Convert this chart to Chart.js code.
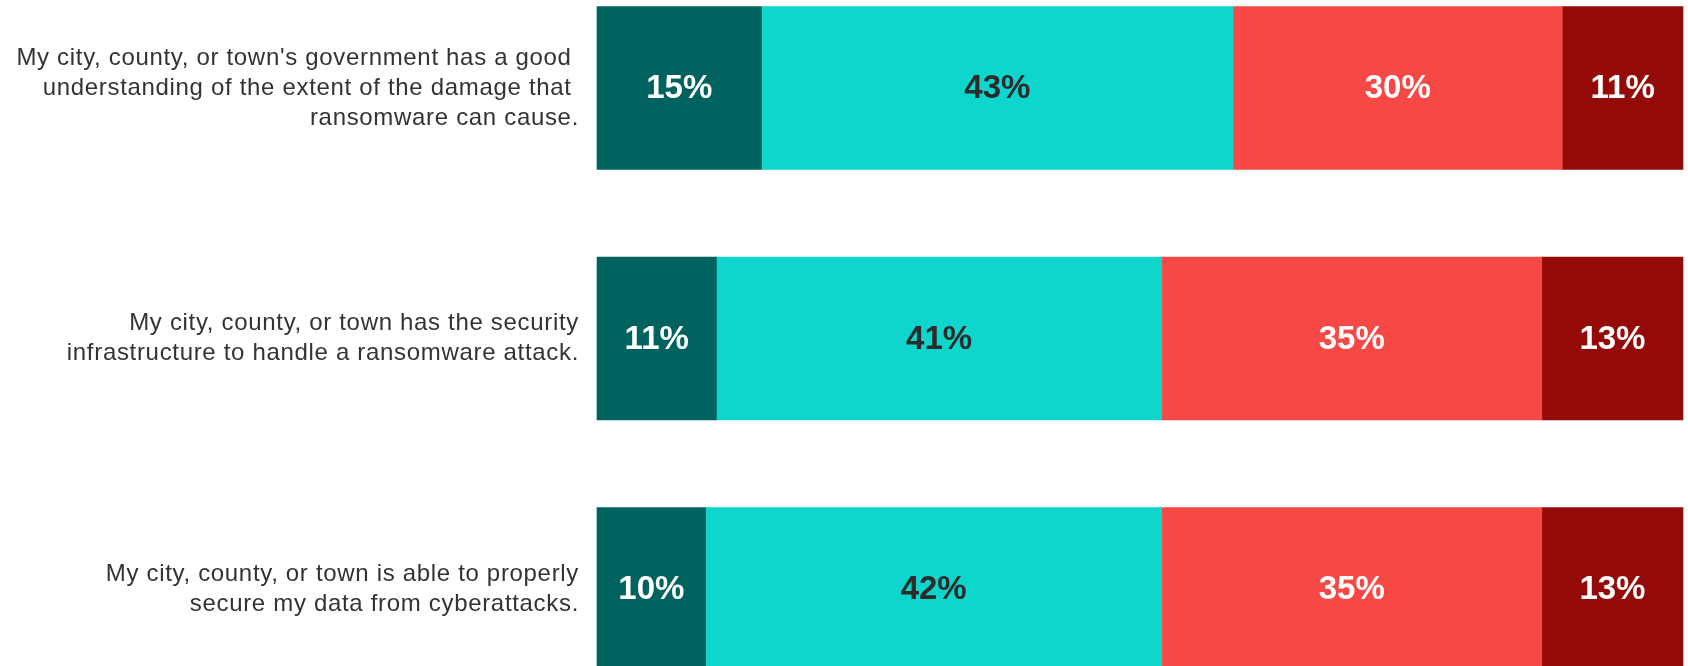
<!DOCTYPE html>
<html>
<head>
<meta charset="utf-8">
<script src="https://cdn.jsdelivr.net/npm/chart.js@4.4.1/dist/chart.umd.min.js"></script>
<style>
    html, body { margin: 0; padding: 0; background: #fff; }
    #wrap { width: 1688px; height: 666px; position: relative; }
</style>
</head>
<body>
<div id="wrap"><canvas id="chart"></canvas></div>
<script>
// survey statements (multi-line labels) and the share answering each option
var statements = [
    ["My city, county, or town's government has a good ", "understanding of the extent of the damage that ", "ransomware can cause."],
    ["My city, county, or town has the security", "infrastructure to handle a ransomware attack."],
    ["My city, county, or town is able to properly", "secure my data from cyberattacks."]
];
var answers = ["Strongly agree", "Somewhat agree", "Somewhat disagree", "Strongly disagree"];
var stronglyAgree = [15, 11, 10];
var somewhatAgree = [43, 41, 42];
var somewhatDisagree = [30, 35, 35];
var stronglyDisagree = [11, 13, 13];

var colors = ["#00625e", "#0ed6cc", "#f64946", "#940a08"];
var labelColors = ["#ffffff", "#2b2b2b", "#ffffff", "#ffffff"];

var series = [stronglyAgree, somewhatAgree, somewhatDisagree, stronglyDisagree];

// each row is shown as a full-width bar, so scale the shares by the row total
var totals = statements.map(function (s, i) {
    return series.reduce(function (sum, arr) { return sum + arr[i]; }, 0);
});

var datasets = series.map(function (arr, k) {
    return {
        label: answers[k],
        raw: arr,
        data: arr.map(function (v, i) { return v / totals[i] * 100; }),
        backgroundColor: colors[k],
        borderWidth: 0,
        barThickness: 163,
        clip: false
    };
});

// statement text is set a little loose
var textSpacing = {
    id: 'textSpacing',
    beforeDraw: function (chart) {
        chart.ctx.letterSpacing = '0.68px';
    }
};

// writes the percentage in the middle of every segment
var segmentLabels = {
    id: 'segmentLabels',
    afterDatasetsDraw: function (chart) {
        var ctx = chart.ctx;
        ctx.save();
        ctx.letterSpacing = '0px';
        ctx.font = 'bold 33px "Liberation Sans", Arial, sans-serif';
        ctx.textAlign = 'center';
        ctx.textBaseline = 'middle';
        chart.data.datasets.forEach(function (ds, k) {
            chart.getDatasetMeta(k).data.forEach(function (bar, i) {
                var p = bar.getProps(['x', 'y', 'base'], true);
                ctx.fillStyle = labelColors[k];
                ctx.fillText(ds.raw[i] + '%', (p.x + p.base) / 2, p.y + 1);
            });
        });
        ctx.restore();
    }
};

new Chart(document.getElementById('chart'), {
    type: 'bar',
    data: { labels: statements, datasets: datasets },
    plugins: [textSpacing, segmentLabels],
    options: {
        indexAxis: 'y',
        responsive: true,
        maintainAspectRatio: false,
        animation: false,
        layout: { padding: { top: 88, bottom: 77, left: 0, right: 5 } },
        plugins: {
            legend: { display: false },
            tooltip: { enabled: false }
        },
        scales: {
            x: {
                stacked: true,
                display: false,
                min: 0,
                max: 100
            },
            y: {
                stacked: true,
                offset: false,
                grid: { display: false, drawTicks: false },
                border: { display: false },
                afterFit: function (scale) { scale.width = 597; },
                ticks: {
                    padding: 18,
                    color: '#333333',
                    font: { family: '"Liberation Sans", Arial, sans-serif', size: 24, lineHeight: 1.25 }
                }
            }
        }
    }
});
</script>
</body>
</html>
